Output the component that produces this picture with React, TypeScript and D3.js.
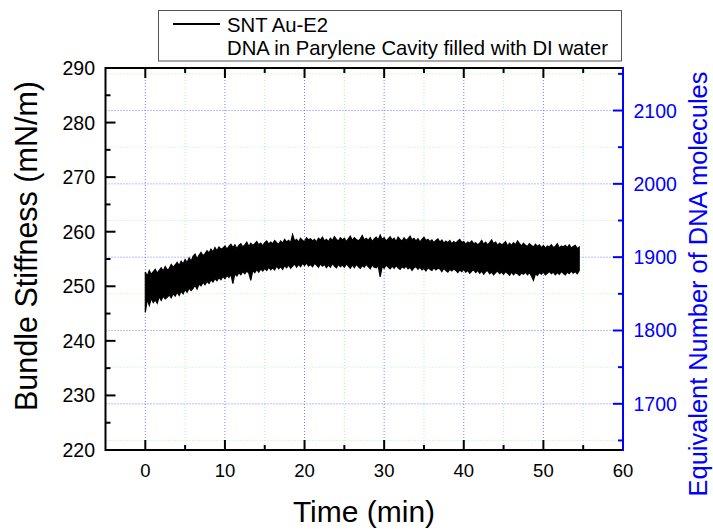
import React from "react";
import * as d3 from "d3";

const W = 713;
const H = 529;

// time step (min) between envelope samples, starting at t = 0
const timeStep = 0.25;

// upper envelope of the noisy stiffness trace (mN/m), 4 samples per minute
const upperEnvelope = [
  252.6, 251.9, 252.9, 252.2, 252.7, 253.1, 252.4, 252.9, 253.4, 252.8, 253.6, 253.0,
  253.2, 254.0, 253.5, 253.9, 254.4, 253.8, 254.6, 254.1, 254.9, 254.3, 255.2, 254.6,
  255.5, 255.9, 255.0, 255.7, 256.2, 255.6, 256.0, 256.5, 256.1, 256.8, 256.3, 257.1,
  256.5, 257.2, 256.8, 257.0, 257.4, 256.8, 257.3, 257.7, 257.1, 257.6, 256.9, 257.5,
  257.8, 257.2, 257.6, 258.1, 257.3, 257.9, 257.5, 257.8, 258.2, 257.6, 257.9, 257.4,
  258.0, 258.3, 257.7, 258.1, 257.8, 258.4, 258.0, 257.7, 258.3, 257.9, 258.6, 258.1,
  258.4, 258.0, 259.5, 258.3, 258.6, 258.1, 258.8, 258.4, 258.2, 258.9, 258.5, 258.7,
  258.3, 258.6, 258.1, 258.8, 258.5, 259.0, 258.3, 258.6, 258.2, 258.8, 258.4, 259.1,
  258.6, 258.3, 258.9, 258.5, 258.8, 258.2, 258.7, 259.2, 258.4, 258.9, 258.6, 258.3,
  258.7, 259.3, 258.5, 258.8, 258.4, 258.9, 258.2, 258.7, 259.0, 258.5, 259.4, 258.6,
  258.9, 258.3, 258.7, 259.1, 258.5, 258.8, 258.2, 259.0, 258.6, 258.3, 258.9, 258.4,
  258.7, 259.2, 258.5, 258.8, 258.3, 258.7, 258.1, 258.6, 259.0, 258.4, 258.6, 258.2,
  258.5, 258.0, 258.4, 258.7, 258.1, 258.5, 257.9, 258.3, 258.0, 258.4, 257.8, 258.2,
  257.9, 258.3, 258.6, 258.0, 258.2, 257.7, 258.1, 257.9, 258.3, 257.8, 258.0, 257.6,
  257.9, 258.4, 257.7, 258.1, 257.6, 258.0, 258.5, 257.8, 258.1, 257.5, 257.9, 257.6,
  257.8, 258.2, 257.4, 257.9, 257.5, 258.0, 257.6, 258.3, 257.8, 257.4, 257.9, 257.5,
  257.3, 257.8, 257.5, 257.2, 257.7, 257.3, 257.6, 257.1, 257.5, 257.0, 257.4, 257.2,
  257.6, 257.1, 257.3, 257.8, 257.0, 257.4, 257.2, 257.5, 257.1, 257.6, 257.0, 257.3,
  257.5, 256.9, 257.2,
];

// lower envelope of the noisy stiffness trace (mN/m), 4 samples per minute
const lowerEnvelope = [
  245.2, 247.6, 246.5, 247.8, 247.0, 247.5, 246.9, 248.1, 247.4, 248.2, 247.7, 248.0,
  248.4, 247.9, 248.7, 248.2, 248.9, 248.3, 249.1, 248.6, 249.4, 248.9, 249.7, 249.2,
  249.6, 250.2, 249.5, 250.4, 250.1, 250.7, 250.3, 250.9, 250.5, 251.2, 250.8, 251.4,
  251.0, 251.6, 251.2, 251.8, 251.4, 252.0, 251.6, 252.2, 250.5, 252.3, 251.9, 252.5,
  252.1, 252.7, 252.3, 252.8, 252.4, 251.1, 252.9, 252.5, 253.1, 252.6, 253.2, 252.8,
  253.3, 252.9, 253.5, 253.0, 253.4, 253.0, 253.7, 253.2, 253.6, 253.1, 253.8, 253.4,
  253.9, 253.3, 253.7, 254.1, 253.5, 254.0, 253.6, 254.2, 253.8, 254.3, 253.7, 254.0,
  253.6, 254.2, 253.9, 253.5, 254.1, 253.7, 254.0, 253.4, 253.9, 253.5, 254.2, 253.7,
  253.4, 254.0, 253.6, 253.9, 253.5, 254.1, 253.7, 253.3, 253.9, 253.4, 254.0, 253.6,
  253.3, 253.8, 253.5, 254.0, 253.6, 253.2, 253.9, 253.5, 253.4, 253.8, 251.7, 253.6,
  253.3, 253.9, 253.5, 253.2, 253.7, 253.3, 253.8, 253.4, 253.1, 253.6, 253.3, 253.7,
  253.2, 253.5, 252.9, 253.4, 253.6, 253.1, 253.5, 253.0, 253.3, 252.8, 253.4, 253.1,
  252.9, 253.4, 253.0, 253.3, 253.2, 252.7, 253.3, 252.9, 252.6, 253.1, 252.8, 253.2,
  252.9, 252.5, 253.0, 252.7, 253.1, 252.6, 252.9, 252.4, 252.8, 253.0, 252.5, 252.9,
  252.4, 252.8, 252.2, 252.7, 252.9, 252.3, 252.6, 252.1, 252.5, 252.8, 252.3, 252.6,
  252.2, 252.7, 252.4, 252.0, 252.6, 252.1, 252.5, 252.3, 252.0, 252.4, 252.2, 252.6,
  252.1, 252.5, 251.9, 251.1, 252.3, 252.0, 252.5, 252.2, 252.6, 252.1, 252.4, 252.7,
  252.3, 252.6, 252.1, 252.5, 252.2, 252.7, 252.4, 252.1, 252.6, 252.3, 252.8, 252.4,
  252.7, 252.3, 252.9,
];

const xTicks = [0, 10, 20, 30, 40, 50, 60];
const xMinorTicks = [-5, 5, 15, 25, 35, 45, 55];
const yTicks = [220, 230, 240, 250, 260, 270, 280, 290];
const yMinorTicks = [225, 235, 245, 255, 265, 275, 285];
const rightTicks = [1700, 1800, 1900, 2000, 2100];
const rightMinorTicks = [1650, 1750, 1850, 1950, 2050, 2150];
const xDomain = [-5, 60];
const yDomain = [220, 290];
const rightDomain = [1637, 2158];

const legendLabels = ["SNT Au-E2", "DNA in Parylene Cavity filled with DI water"];
const xTitle = "Time (min)";
const yTitle = "Bundle Stiffness (mN/m)";
const rightTitle = "Equivalent Number of  DNA molecules";

export default function App() {
  const L = 105.5, R = 623, T = 68, B = 450;
  const x = d3.scaleLinear().domain(xDomain).range([L, R]);
  const y = d3.scaleLinear().domain(yDomain).range([B, T]);
  const yr = d3.scaleLinear().domain(rightDomain).range([B, T]);

  const pts = upperEnvelope.map((u, i) => ({ t: i * timeStep, hi: u, lo: lowerEnvelope[i] }));
  const area = d3
    .area<{ t: number; hi: number; lo: number }>()
    .x((d) => x(d.t))
    .y0((d) => y(d.lo))
    .y1((d) => y(d.hi));

  const font = "'Liberation Sans', Arial, sans-serif";
  const blueGrid = "#7b7bff";
  const greenGrid = "#b8f0b8";
  const blue = "#0000ff";

  return (
    <svg
      width={W}
      height={H}
      style={{ position: "absolute", left: 0, top: 0, background: "#fff" }}
      fontFamily={font}
    >
      <rect x={0} y={0} width={W} height={H} fill="#fff" />
      {/* grid */}
      {xMinorTicks.filter((t) => t > xDomain[0]).map((t) => (
        <line key={"gx" + t} x1={x(t)} x2={x(t)} y1={T} y2={B} stroke={greenGrid} strokeDasharray="1,2" />
      ))}
      {xTicks.filter((t) => t < xDomain[1]).map((t) => (
        <line key={"bx" + t} x1={x(t)} x2={x(t)} y1={T} y2={B} stroke={blueGrid} strokeDasharray="1,2" />
      ))}
      {rightMinorTicks.map((t) => (
        <line key={"gy" + t} x1={L} x2={R} y1={yr(t)} y2={yr(t)} stroke={greenGrid} strokeDasharray="1,2" />
      ))}
      {rightTicks.map((t) => (
        <line key={"by" + t} x1={L} x2={R} y1={yr(t)} y2={yr(t)} stroke={blueGrid} strokeDasharray="1,2" />
      ))}

      {/* data */}
      <path d={area(pts) || ""} fill="#000" stroke="#000" strokeWidth={1.2} strokeLinejoin="miter" />

      {/* bottom & top axes */}
      <line x1={L} x2={R} y1={B} y2={B} stroke="#000" strokeWidth={2} />
      <line x1={L} x2={R} y1={T} y2={T} stroke="#000" strokeWidth={2} />
      {xTicks.map((t) => (
        <g key={"xt" + t}>
          <line x1={x(t)} x2={x(t)} y1={B} y2={B - 10} stroke="#000" strokeWidth={2} />
          <line x1={x(t)} x2={x(t)} y1={T} y2={T + 10} stroke="#000" strokeWidth={2} />
          <text x={x(t)} y={477} fontSize={18.5} textAnchor="middle" fill="#000">{t}</text>
        </g>
      ))}
      {xMinorTicks.filter((t) => t > xDomain[0]).map((t) => (
        <g key={"xm" + t}>
          <line x1={x(t)} x2={x(t)} y1={B} y2={B - 5} stroke="#000" strokeWidth={2} />
          <line x1={x(t)} x2={x(t)} y1={T} y2={T + 5} stroke="#000" strokeWidth={2} />
        </g>
      ))}

      {/* left axis */}
      <line x1={L} x2={L} y1={T - 1} y2={B + 1} stroke="#000" strokeWidth={2} />
      {yTicks.map((t) => (
        <g key={"yt" + t}>
          <line x1={L} x2={L + 10} y1={y(t)} y2={y(t)} stroke="#000" strokeWidth={2} />
          <text x={95} y={y(t) + 7} fontSize={19.5} textAnchor="end" fill="#000">{t}</text>
        </g>
      ))}
      {yMinorTicks.map((t) => (
        <line key={"ym" + t} x1={L} x2={L + 5} y1={y(t)} y2={y(t)} stroke="#000" strokeWidth={2} />
      ))}

      {/* right axis */}
      <line x1={R} x2={R} y1={T - 1} y2={B + 1} stroke={blue} strokeWidth={2} />
      {rightTicks.map((t) => (
        <g key={"rt" + t}>
          <line x1={R} x2={R - 10} y1={yr(t)} y2={yr(t)} stroke={blue} strokeWidth={2} />
          <text x={633.5} y={yr(t) + 7} fontSize={19.5} fill={blue}>{t}</text>
        </g>
      ))}
      {rightMinorTicks.map((t) => (
        <line key={"rm" + t} x1={R} x2={R - 5} y1={yr(t)} y2={yr(t)} stroke={blue} strokeWidth={2} />
      ))}

      {/* titles */}
      <text x={364} y={522} fontSize={30} textAnchor="middle" fill="#000">{xTitle}</text>
      <text transform="translate(37,246) rotate(-90)" fontSize={30.5} textAnchor="middle" fill="#000">{yTitle}</text>
      <text transform="translate(707,284) rotate(-90)" fontSize={25.4} textAnchor="middle" fill={blue}>{rightTitle}</text>

      {/* legend */}
      <rect x={158.5} y={10.5} width={463} height={50.5} fill="#fff" stroke="#555" strokeWidth={1} />
      <line x1={173} x2={220} y1={24} y2={24} stroke="#000" strokeWidth={2} />
      <text x={227} y={31.5} fontSize={20.3} fill="#000">{legendLabels[0]}</text>
      <text x={227} y={55} fontSize={20.3} fill="#000">{legendLabels[1]}</text>
    </svg>
  );
}
